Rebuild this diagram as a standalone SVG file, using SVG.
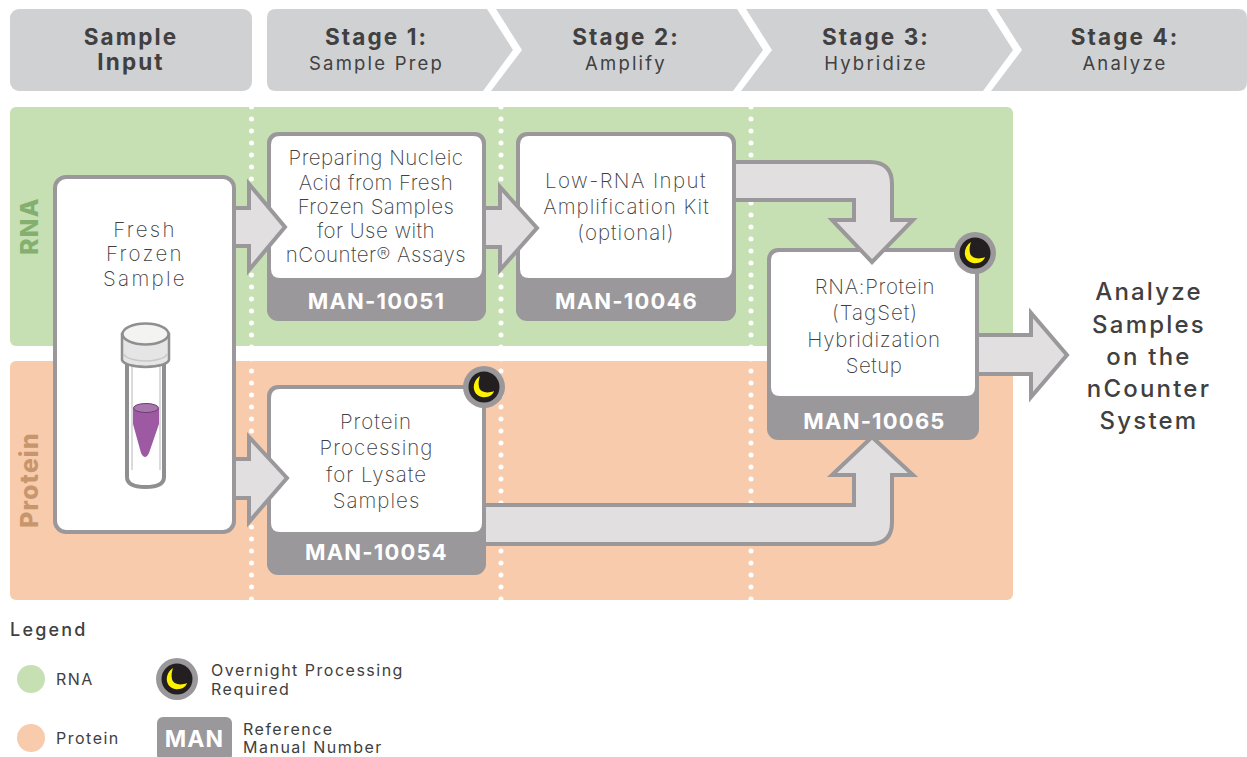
<svg xmlns="http://www.w3.org/2000/svg" width="1247" height="757" viewBox="0 0 1247 757">
<style>
text{font-family:"Inter","Liberation Sans",sans-serif;text-anchor:middle}
.hd{fill:#d0d1d3}
.h1{font-size:22.500px;font-weight:700;fill:#404041;letter-spacing:2.100px}
.h2{font-size:18.500px;font-weight:400;fill:#404041;letter-spacing:2.200px}
.box{fill:#fff;stroke:#9a989b;stroke-width:4}
.man{fill:#9a989b}
.b{font-size:20.500px;font-weight:200;fill:#404041;letter-spacing:.45px}
.w{letter-spacing:1px}
.mn{font-size:22px;font-weight:700;fill:#fff;letter-spacing:1.200px}
.arr{fill:#e1dfe0;stroke:#9a989b;stroke-width:4;stroke-linejoin:miter}
.side{font-size:24.500px;font-weight:800;letter-spacing:1.200px}
.lg{font-size:16px;font-weight:400;fill:#404041;letter-spacing:1.500px;text-anchor:start}
.out{font-size:24px;font-weight:500;fill:#404041;letter-spacing:2.200px}
.dots{stroke:#fff;stroke-width:5;stroke-linecap:round;stroke-dasharray:0 12;fill:none}
</style>
<defs>
<g id="moon"><circle r="21" fill="#9a989b"/><circle r="15.500" fill="#231f20"/><path d="M-4-11C-13-5-12 8-2 10 4 11 9 8 10 4 3 7-4 5-5 0-6-4-5-8-4-11Z" fill="#fff200"/></g>
</defs>
<g id="band-rna"><rect x="10" y="107" width="1003" height="239" rx="6" fill="#c6e0b4"/><text class="side" transform="translate(38 226) rotate(-90)" fill="#84b06f">RNA</text></g>
<g id="band-protein"><rect x="10" y="361" width="1003" height="239" rx="6" fill="#f7cbac"/><text class="side" transform="translate(38 480) rotate(-90)" fill="#c8966c">Protein</text></g>
<g id="dividers"><path class="dots" d="M251.500 107V600M501 107V600M751 107V600"/></g>
<g id="header-input"><rect class="hd" x="10" y="9" width="242" height="82" rx="9"/><text class="h1" x="131" y="45">Sample</text><text class="h1" x="131" y="70">Input</text></g>
<g id="header-stage1"><path class="hd" d="M276 9H487L513 50 483 91H276Q267 91 267 82V18Q267 9 276 9Z"/><text class="h1" x="376.500" y="45">Stage 1:</text><text class="h2" x="376.500" y="70">Sample Prep</text></g>
<g id="header-stage2"><path class="hd" d="M496 9H737L763 50 733 91H491L522 50Z"/><text class="h1" x="626" y="45">Stage 2:</text><text class="h2" x="626" y="70">Amplify</text></g>
<g id="header-stage3"><path class="hd" d="M746 9H987L1013 50 983 91H741L772 50Z"/><text class="h1" x="876" y="45">Stage 3:</text><text class="h2" x="876" y="70">Hybridize</text></g>
<g id="header-stage4"><path class="hd" d="M996 9H1238Q1247 9 1247 18V82Q1247 91 1238 91H991L1022 50Z"/><text class="h1" x="1125" y="45">Stage 4:</text><text class="h2" x="1125" y="70">Analyze</text></g>
<g id="node-sample"><rect class="box" x="55" y="177" width="179" height="355" rx="11"/>
<text class="b" x="145" y="237" style="letter-spacing:2.300px">Fresh</text><text class="b" x="145" y="261" style="letter-spacing:2.300px">Frozen</text><text class="b" x="145" y="286" style="letter-spacing:2.300px">Sample</text>
<path d="M127 360V477Q127 487 145.500 487 164 487 164 477V360" fill="#fff" stroke="#8f8e90" stroke-width="4"/>
<path d="M132 362V470M160 362V470" stroke="#d0d0d2" stroke-width="1.500" fill="none"/>
<path d="M133 408V424L141 453Q145 461 149 453L159 424V408Z" fill="#9d5aa3"/>
<ellipse cx="146" cy="408" rx="12.500" ry="4.500" fill="#a878ad" stroke="#6f3a78" stroke-width="1"/>
<path d="M122 334V360Q124 366 145.500 367 167 366 169 360V334Z" fill="#e4e5e4" stroke="#8f8e90" stroke-width="2.500"/>
<path d="M124 354Q126 360 145.500 361 165 360 167 354" fill="none" stroke="#c8c8c8" stroke-width="1.500"/>
<ellipse cx="145.500" cy="334" rx="23" ry="10.500" fill="#f3f3f2" stroke="#8f8e90" stroke-width="2.500"/>
</g>
<g id="node-prep"><rect class="man" x="267" y="132" width="219" height="189" rx="11"/><path class="box" style="stroke:none" d="M280 136H473Q482 136 482 145V269Q482 278 473 278H280Q271 278 271 269V145Q271 136 280 136Z"/>
<text class="b" x="376" y="165">Preparing Nucleic</text><text class="b" x="376" y="190">Acid from Fresh</text><text class="b" x="376" y="214">Frozen Samples</text><text class="b" x="376" y="238">for Use with</text><text class="b" x="376" y="262">nCounter® Assays</text><text class="mn" x="376.500" y="309">MAN-10051</text></g>
<g id="node-amplify"><rect class="man" x="516" y="132" width="220" height="189" rx="11"/><path class="box" style="stroke:none" d="M529 136H723Q732 136 732 145V269Q732 278 723 278H529Q520 278 520 269V145Q520 136 529 136Z"/>
<text class="b" x="626" y="188" style="letter-spacing:1.400px">Low-RNA Input</text><text class="b w" x="626.500" y="214">Amplification Kit</text><text class="b w" x="626" y="240">(optional)</text><text class="mn" x="626.500" y="309">MAN-10046</text></g>
<g id="node-lysate"><rect class="man" x="267" y="385" width="219" height="190" rx="11"/><path class="box" style="stroke:none" d="M280 389H473Q482 389 482 398V523Q482 532 473 532H280Q271 532 271 523V398Q271 389 280 389Z"/>
<text class="b w" x="376" y="429">Protein</text><text class="b w" x="376.500" y="455">Processing</text><text class="b w" x="376.500" y="482">for Lysate</text><text class="b w" x="376.500" y="508">Samples</text><text class="mn" x="376.500" y="560">MAN-10054</text><use href="#moon" x="484" y="387"/></g>
<g id="node-hyb"><rect class="man" x="767" y="248" width="212" height="192" rx="11"/><path class="box" style="stroke:none" d="M780 252H966Q975 252 975 261V387Q975 396 966 396H780Q771 396 771 387V261Q771 252 780 252Z"/>
<text class="b" x="875" y="294" style="letter-spacing:.7px">RNA:Protein</text><text class="b w" x="875" y="320">(TagSet)</text><text class="b" x="874" y="347" style="letter-spacing:.8px">Hybridization</text><text class="b" x="874" y="373">Setup</text><text class="mn" x="874.500" y="429">MAN-10065</text></g>
<g id="connectors">
<path class="arr" d="M236 208H249V184L285 227 249 270V246H236"/>
<path class="arr" d="M236 459H249V437L287 478 249 522V498H236"/>
<path class="arr" d="M486 208H500V187L537 228 500 270V247H486"/>
<path class="arr" d="M736 162H870Q892 162 892 184V220H913L872 262 832 220H854V200H736"/>
<path class="arr" d="M486 505H854V475H832L872 437 913 475H892V522Q892 544 870 544H486"/>
<path class="arr" d="M979 335H1031V313L1067 355 1031 397V374H979"/>
</g>
<g id="moon-hyb"><use href="#moon" x="975" y="253"/></g>
<g id="node-output"><text class="out" x="1149" y="300">Analyze</text><text class="out" x="1149" y="333">Samples</text><text class="out" x="1149" y="365">on the</text><text class="out" x="1149" y="397">nCounter</text><text class="out" x="1149" y="429">System</text></g>
<g id="legend">
<text class="lg" x="10" y="636" style="font-size:18px;letter-spacing:2.200px;font-weight:500">Legend</text>
<circle cx="31" cy="679" r="14" fill="#c6e0b4"/><text class="lg" x="56" y="685">RNA</text>
<circle cx="31" cy="738" r="14" fill="#f7cbac"/><text class="lg" x="56" y="744">Protein</text>
<use href="#moon" x="177" y="679"/>
<text class="lg" x="211" y="676">Overnight Processing</text><text class="lg" x="211" y="695">Required</text>
<rect class="man" x="157" y="717" width="75" height="44" rx="6"/><text class="mn" x="194.500" y="747" style="font-size:23px">MAN</text>
<text class="lg" x="243" y="735">Reference</text><text class="lg" x="243" y="753">Manual Number</text>
</g>
</svg>
